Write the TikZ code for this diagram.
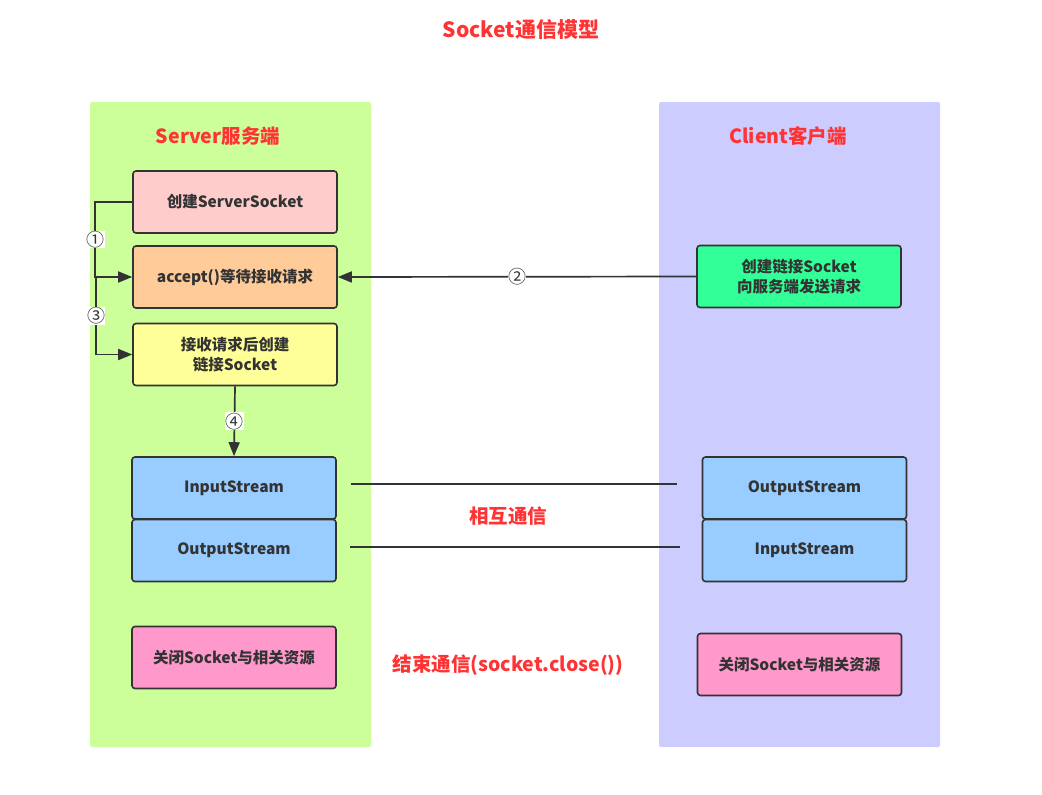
\documentclass[tikz,border=0pt]{standalone}
\usepackage{fontspec}
\setmainfont{Noto Sans CJK SC}
\usepackage{xcolor}
\usetikzlibrary{arrows.meta}

\definecolor{titlered}{HTML}{FF3333}
\definecolor{linegray}{HTML}{333333}
\definecolor{servergreen}{HTML}{CCFF99}
\definecolor{clientblue}{HTML}{CCCCFF}
\definecolor{createpink}{HTML}{FFCCCC}
\definecolor{acceptorange}{HTML}{FFCC99}
\definecolor{recvyellow}{HTML}{FFFF99}
\definecolor{streamblue}{HTML}{99CCFF}
\definecolor{closepink}{HTML}{FF99CC}
\definecolor{connectgreen}{HTML}{33FF99}

\begin{document}
\begin{tikzpicture}[x=1pt,y=-1pt,
    box/.style={draw=linegray,line width=1.6pt,rounded corners=3pt,minimum width=204pt,minimum height=62pt,
        align=center,text=linegray,font=\fontsize{15.5}{20}\selectfont\bfseries},
    redtext/.style={text=titlered,font=\fontsize{19.5}{22}\selectfont\bfseries},
    num/.style={fill=white,inner sep=0.4pt,text=linegray,font=\fontsize{18}{18}\selectfont},
    link/.style={draw=linegray,line width=1.7pt},
    >={Triangle[length=14pt,width=11pt]}]
    \useasboundingbox (0,0) rectangle (1042,795);

    % panels
    \fill[servergreen,rounded corners=2pt] (90,102) rectangle (371,747);
    \fill[clientblue,rounded corners=2pt] (659,102) rectangle (940,747);

    % titles
    \node[redtext,font=\fontsize{21}{24}\selectfont\bfseries] (title) at (521,30) {Socket通信模型};
    \node[redtext] (server) at (218,136) {Server服务端};
    \node[redtext] (client) at (788,136) {Client客户端};
    \node[redtext] (talk) at (508,516) {相互通信};
    \node[redtext] (finish) at (508,665) {结束通信(socket.close())};

    % server side
    \node[box,fill=createpink] (create) at (235,202) {创建ServerSocket};
    \node[box,fill=acceptorange] (accept) at (235,277) {accept()等待接收请求};
    \node[box,fill=recvyellow] (recv) at (235,354.5) {接收请求后创建\\链接Socket};
    \node[box,fill=streamblue] (in1) at (234,488) {InputStream};
    \node[box,fill=streamblue] (out1) at (234,550.5) {OutputStream};
    \node[box,fill=closepink] (close1) at (234,657.5) {关闭Socket与相关资源};

    % client side
    \node[box,fill=connectgreen] (connect) at (799,276.5) {创建链接Socket\\向服务端发送请求};
    \node[box,fill=streamblue] (out2) at (804.5,488) {OutputStream};
    \node[box,fill=streamblue] (in2) at (804.5,550.5) {InputStream};
    \node[box,fill=closepink] (close2) at (799.5,664.5) {关闭Socket与相关资源};

    % connectors
    \coordinate (turn) at (96,277);
    \draw[link,->] (create.west) -- ++(-37,0) |- node[num,pos=0.25]{①} (accept.west);
    \draw[link,->] (turn) |- node[num,pos=0.25]{③} (recv.west);
    \draw[link,->] (connect.west) -- node[num]{②} (accept.east);
    \draw[link,->] (recv.south) -- node[num]{④} (in1.north);
    \draw[link,shorten <=14pt,shorten >=25pt] ([yshift=4pt]in1.east) -- ([yshift=4pt]out2.west);
    \draw[link,shorten <=13pt,shorten >=22pt] ([yshift=3.5pt]out1.east) -- ([yshift=3.5pt]in2.west);
\end{tikzpicture}
\end{document}
